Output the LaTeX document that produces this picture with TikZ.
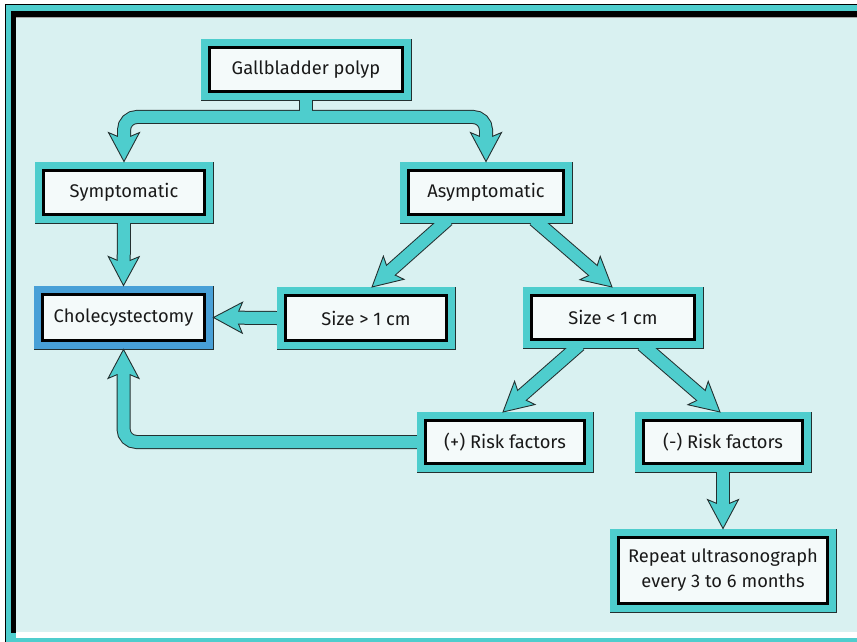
\documentclass[tikz,border=0pt]{standalone}
\usepackage{fontspec}
\setmainfont{Fira Sans}
\usetikzlibrary{calc}
\definecolor{bgc}{RGB}{217,241,241}
\definecolor{tealc}{RGB}{78,205,205}
\definecolor{edgec}{RGB}{35,48,48}
\definecolor{boxw}{RGB}{244,250,250}
\definecolor{chb}{RGB}{72,160,215}
\definecolor{txtc}{RGB}{25,25,25}
\tikzset{
  obox/.style={draw=edgec, line width=0.9pt, fill=tealc, inner sep=0pt},
  obluebox/.style={draw=edgec, line width=0.9pt, fill=chb, inner sep=0pt},
  ibox/.style={draw=black, line width=3pt, fill=boxw, inner sep=0pt, text=txtc,
    font=\fontsize{18.3}{25}\selectfont, align=center},
  darkshaft/.style={draw=edgec, line width=14pt},
  tealshaft/.style={draw=tealc, line width=12pt},
  headst/.style={fill=tealc, draw=edgec, line width=0.9pt, line join=miter},
}
\newcommand\arrhead[2]{%
  \path ($#1!29pt!#2$) coordinate (hb) ($#1!25pt!#2$) coordinate (hn);
  \draw[headst] ($(hb)!15.5pt!90:#1$) -- #1 -- ($(hb)!15.5pt!-90:#1$)
     -- ($(hn)!6pt!-90:#1$) -- ($(hn)!6pt!90:#1$) -- cycle;}
\begin{document}
\begin{tikzpicture}[x=1pt,y=-1pt]
\useasboundingbox (0,0) rectangle (857,642);
\fill[white] (0,0) rectangle (857,642);
% frame
\fill[tealc] (5,4) rectangle (870,660);
\draw[black, line width=1pt] (5.5,660) -- (5.5,4.5) -- (870,4.5);
\fill[black] (11,11.5) rectangle (870,633);
\fill[white] (16,632) rectangle (870,637.5);
\fill[bgc] (16,17) rectangle (870,632);
\draw[gray!70, line width=0.6pt] (16,17.3) -- (870,17.3);
% outer boxes
\node[obox, minimum width=210pt, minimum height=61pt] (gp) at (306,69.5) {};
\node[obox, minimum width=178pt, minimum height=61pt] (sym) at (124,192.5) {};
\node[obox, minimum width=172pt, minimum height=61pt] (asy) at (486,192.5) {};
\node[obluebox, minimum width=179pt, minimum height=63pt] (cho) at (123.5,317.5) {};
\node[obox, minimum width=178pt, minimum height=62pt] (big) at (366,318) {};
\node[obox, minimum width=180pt, minimum height=61pt] (sml) at (613,317.5) {};
\node[obox, minimum width=176pt, minimum height=60pt] (pos) at (505,442) {};
\node[obox, minimum width=176pt, minimum height=60pt] (neg) at (723,442) {};
\node[obox, minimum width=226pt, minimum height=83pt] (rep) at (723,570.5) {};
% connector coordinates
\coordinate (fk) at ($(gp.south)+(0,-4)$);
\coordinate (fj) at ($(gp.south)+(0,16.5)$);
\coordinate (tsym) at (sym.north);
\coordinate (tasy) at (asy.north);
\coordinate (a1b) at (444,223); \coordinate (a1t) at (372,287);
\coordinate (a2b) at (538,223); \coordinate (a2t) at (612,287);
\coordinate (a3b) at (576,348); \coordinate (a3t) at (503,412);
\coordinate (a4b) at (646,348); \coordinate (a4t) at (720,412);
\coordinate (pc) at (pos.west -| cho.south);
\newcommand\straight[2]{}
\newcommand\arrowlist{%
  \straight{(sym.south)}{(cho.north)}
  \straight{(big.west)}{(cho.east)}
  \straight{(a1b)}{(a1t)}
  \straight{(a2b)}{(a2t)}
  \straight{(a3b)}{(a3t)}
  \straight{(a4b)}{(a4t)}
  \straight{(neg.south)}{(rep.north)}
}
\newcommand\bentshafts[1]{%
  \draw[#1] (fk) -- (fj);
  \draw[#1, rounded corners=13pt] ($(tsym)+(0,-23)$) |- (fj) -| ($(tasy)+(0,-23)$);
  \draw[#1, rounded corners=13pt] ($(pos.west)+(4,0)$) -- (pc) -- ($(cho.south)+(0,23)$);
}
% pass 1: dark shafts
\renewcommand\straight[2]{\draw[darkshaft] ($#1!-5pt!#2$) -- ($#2!23pt!#1$);}
\arrowlist
\bentshafts{darkshaft}
% pass 2: refill boxes
\foreach \n in {gp,sym,asy,big,sml,pos,neg,rep}{
  \fill[tealc] ($(\n.south west)+(0.6,-0.6)$) rectangle ($(\n.north east)+(-0.6,0.6)$);}
\fill[chb] ($(cho.south west)+(0.6,-0.6)$) rectangle ($(cho.north east)+(-0.6,0.6)$);
% pass 3: heads
\renewcommand\straight[2]{\arrhead{#2}{#1}}
\arrowlist
\arrhead{(tsym)}{($(tsym)+(0,-40)$)}
\arrhead{(tasy)}{($(tasy)+(0,-40)$)}
\arrhead{(cho.south)}{(pc)}
% pass 4: teal shafts
\renewcommand\straight[2]{\draw[tealshaft] ($#1!-5pt!#2$) -- ($#2!23pt!#1$);}
\arrowlist
\bentshafts{tealshaft}
% inner boxes with text
\node[ibox, minimum width=193pt, minimum height=44pt] (gpt) at (gp) {Gallbladder polyp};
\node[ibox, minimum width=161pt, minimum height=44pt] (symt) at (sym) {Symptomatic};
\node[ibox, minimum width=155pt, minimum height=44pt] (asyt) at (asy) {Asymptomatic};
\node[ibox, minimum width=162pt, minimum height=46pt] (chot) at (cho) {Cholecystectomy};
\node[ibox, minimum width=161pt, minimum height=45pt] (bigt) at (big) {Size > 1 cm};
\node[ibox, minimum width=163pt, minimum height=44pt] (smlt) at (sml) {Size < 1 cm};
\node[ibox, minimum width=159pt, minimum height=43pt] (post) at (pos) {(+) Risk factors};
\node[ibox, minimum width=159pt, minimum height=43pt] (negt) at (neg) {(-) Risk factors};
\node[ibox, minimum width=209pt, minimum height=66pt] (rept) at (rep) {Repeat ultrasonograph\\every 3 to 6 months};
\end{tikzpicture}
\end{document}
